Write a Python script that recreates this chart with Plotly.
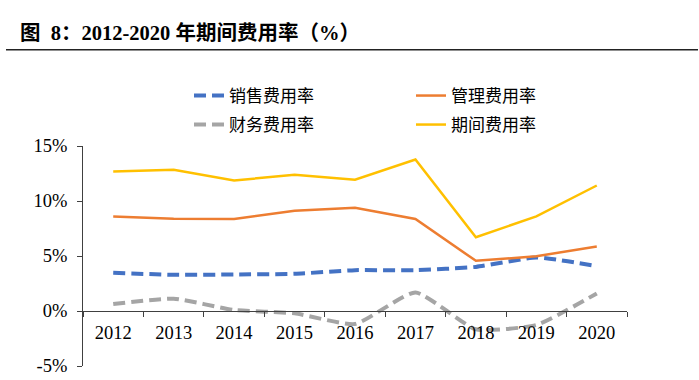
import plotly.graph_objects as go

years = ["2012", "2013", "2014", "2015", "2016", "2017", "2018", "2019", "2020"]
sales_rate = [3.47, 3.29, 3.32, 3.38, 3.71, 3.71, 4.01, 4.86, 4.08]
admin_rate = [8.60, 8.39, 8.36, 9.12, 9.39, 8.36, 4.56, 4.98, 5.86]
finance_rate = [0.63, 1.12, 0.09, -0.21, -1.18, 1.69, -1.66, -1.27, 1.60]
period_rate = [12.68, 12.83, 11.87, 12.38, 11.93, 13.77, 6.70, 8.60, 11.41]

series_names = ["销售费用率", "管理费用率", "财务费用率", "期间费用率"]
y_ticks = [-5, 0, 5, 10, 15]
y_ticktext = ["-5%", "0%", "5%", "10%", "15%"]

SERIF = "Liberation Serif, Times New Roman, Noto Sans CJK SC"
CJK = "Noto Sans CJK SC, Liberation Serif"

W, H = 699, 380
L, R, T, B = 83, 72, 146, 14
PW, PH = W - L - R, H - T - B


def px_x(px):
    return (px - L) / PW


def px_y(py):
    return (H - B - py) / PH


fig = go.Figure()
fig.add_trace(go.Scatter(x=years, y=sales_rate, name=series_names[0], mode="lines", legend="legend",
                         line=dict(color="#4472C4", width=4, dash="12px,6px", shape="spline", smoothing=0.5)))
fig.add_trace(go.Scatter(x=years, y=admin_rate, name=series_names[1], mode="lines", legend="legend",
                         line=dict(color="#ED7D31", width=2.5)))
fig.add_trace(go.Scatter(x=years, y=finance_rate, name=series_names[2], mode="lines", legend="legend2",
                         line=dict(color="#A5A5A5", width=4, dash="12px,6px", shape="spline", smoothing=0.5)))
fig.add_trace(go.Scatter(x=years, y=period_rate, name=series_names[3], mode="lines", legend="legend2",
                         line=dict(color="#FFC000", width=2.5)))

axis_color = "#404040"
legend_common = dict(orientation="h", xanchor="left", yanchor="middle",
                     entrywidth=177, entrywidthmode="pixels",
                     font=dict(family=CJK, size=17, color="black"),
                     bgcolor="rgba(0,0,0,0)")

fig.update_layout(
    width=W, height=H,
    margin=dict(l=L, r=R, t=T, b=B, autoexpand=False),
    paper_bgcolor="white", plot_bgcolor="white",
    font=dict(family=SERIF, size=18.5, color="black"),
    title=dict(text="<b>图  8：2012-2020 年期间费用率（%）</b>",
               x=20 / W, xanchor="left", xref="container",
               y=1 - 33 / H, yanchor="middle", yref="container",
               font=dict(family=SERIF, size=20.5, color="black")),
    showlegend=True,
    legend=dict(x=px_x(189), y=px_y(96), **legend_common),
    legend2=dict(x=px_x(189), y=px_y(125), **legend_common),
    xaxis=dict(type="category", range=[-0.5, 8.5], anchor="free", position=0.25,
               automargin=False,
               tickson="boundaries", ticks="outside", ticklen=5, tickcolor=axis_color,
               ticklabelstandoff=5,
               showline=True, linecolor=axis_color, linewidth=1,
               showgrid=False, zeroline=False,
               tickfont=dict(family=SERIF, size=18.5, color="black")),
    yaxis=dict(range=[-5, 15], tickvals=y_ticks, ticktext=y_ticktext,
               automargin=False,
               ticks="outside", ticklen=5, tickcolor=axis_color,
               ticklabelstandoff=6,
               showline=True, linecolor=axis_color, linewidth=1,
               showgrid=False, zeroline=False,
               tickfont=dict(family=SERIF, size=18.5, color="black")),
    shapes=[dict(type="line", xref="paper", yref="paper",
                 x0=px_x(6), x1=px_x(698),
                 y0=px_y(49.7), y1=px_y(49.7),
                 line=dict(color="#222222", width=1.6))],
)

fig.write_html("out.html", config={"displayModeBar": False},
               post_script="document.body.style.margin='0px';")
